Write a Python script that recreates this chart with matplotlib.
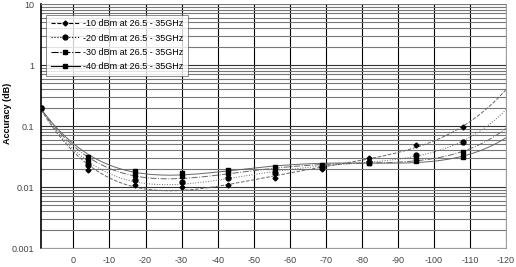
import numpy as np
import matplotlib
matplotlib.use('Agg')
import matplotlib.pyplot as plt
from matplotlib.ticker import LogLocator, NullFormatter, FixedLocator

plt.rcParams.update({'font.family': 'Liberation Sans', 'font.size': 6.5})

power = [9, -4, -17, -30, -43, -56, -69, -82, -95, -108]
acc_10 = [0.2, 0.019, 0.011, 0.010, 0.011, 0.014, 0.020, 0.030, 0.048, 0.095]
acc_20 = [0.2, 0.023, 0.013, 0.012, 0.014, 0.017, 0.021, 0.026, 0.034, 0.055]
acc_30 = [0.2, 0.027, 0.016, 0.015, 0.017, 0.019, 0.022, 0.025, 0.029, 0.037]
acc_40 = [0.2, 0.031, 0.018, 0.017, 0.019, 0.021, 0.023, 0.025, 0.027, 0.031]
labels = ['-10 dBm at 26.5 - 35GHz', '-20 dBm at 26.5 - 35GHz',
          '-30 dBm at 26.5 - 35GHz', '-40 dBm at 26.5 - 35GHz']
xticks = list(range(0, -121, -10))

styles = [('--', 'D', 2.5), (':', 'o', 3.5), ('-.', 's', 3.5), ('-', 's', 3.5)]

fig = plt.figure(figsize=(5.16, 2.67), dpi=100)
ax = fig.add_axes([0.0795, 0.071, 0.901, 0.914])

xs = np.linspace(9, -120, 300)
for vals, lab, (ls, mk, ms) in zip([acc_10, acc_20, acc_30, acc_40], labels, styles):
    # polynomial trendline (in log space) through the points
    p = np.polyfit(power, np.log10(vals), 4)
    ax.plot(xs, 10 ** np.polyval(p, xs), color='#666666', lw=0.7, ls=ls)
    ax.plot(power, vals, ls='none', marker=mk, ms=ms, color='black')
    ax.plot([], [], color='black', lw=0.8, ls=ls, marker=mk, ms=ms, label=lab)

ax.set_yscale('log')
ax.set_ylim(0.001, 10)
ax.set_xlim(9, -120)
ax.xaxis.set_major_locator(FixedLocator(xticks))
ax.set_xticklabels([str(t) for t in xticks])
ax.yaxis.set_major_locator(FixedLocator([0.001, 0.01, 0.1, 1, 10]))
ax.set_yticklabels(['0.001', '0.01', '0.1', '1', '10'])
ax.yaxis.set_minor_locator(LogLocator(base=10, subs=np.arange(2, 10)))
ax.yaxis.set_minor_formatter(NullFormatter())
ax.tick_params(length=0, which='both', colors='#444444')
ax.tick_params(axis='x', pad=6)
ax.tick_params(axis='y', pad=5)

ax.grid(True, axis='x', color='black', lw=0.8)
ax.grid(True, axis='y', which='major', color='#333333', lw=0.8)
ax.grid(True, axis='y', which='minor', color='#777777', lw=0.8)
for s in ax.spines.values():
    s.set_color('#888888')
    s.set_linewidth(0.6)
ax.spines['left'].set_color('black')
ax.spines['left'].set_linewidth(1.2)

ax.set_ylabel('Accuracy (dB)', fontweight='bold')
ax.yaxis.set_label_coords(-0.062, 0.55)

leg = ax.legend(loc='upper left', bbox_to_anchor=(0.002, 0.975), frameon=True,
                fancybox=False, handlelength=3.2, borderpad=0.5, labelspacing=0.6,
                handletextpad=0.4, fontsize=6.5)
leg.get_frame().set_edgecolor('#555555')
leg.get_frame().set_linewidth(0.6)

fig.savefig('out.png', dpi=100)
